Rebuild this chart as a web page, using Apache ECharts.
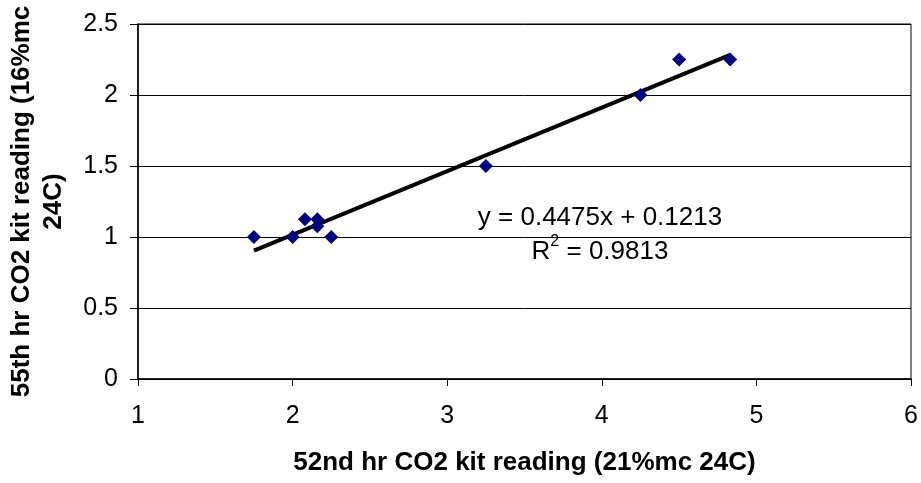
<!DOCTYPE html>
<html>
<head>
<meta charset="utf-8">
<script src="https://cdn.jsdelivr.net/npm/echarts@6/dist/echarts.min.js"></script>
<style>
  html, body { margin: 0; padding: 0; background: #fff; }
  #chart { width: 921px; height: 483px; }
</style>
</head>
<body>
<div id="chart"></div>
<script>
// readings
let xReading = [1.75, 2.0, 2.08, 2.16, 2.16, 2.25, 3.25, 4.25, 4.5, 4.83];
let yReading = [1.0, 1.0, 1.125, 1.125, 1.075, 1.0, 1.5, 2.0, 2.25, 2.25];
let xTicks = [1, 2, 3, 4, 5, 6];
let yTicks = [0, 0.5, 1, 1.5, 2, 2.5];

// linear trendline shown on the chart
let slope = 0.4475;
let intercept = 0.1213;
let rSquared = 0.9813;

window.onload = function () {
    let chart = echarts.init(document.getElementById('chart'));

    let points = xReading.map((x, i) => [x, yReading[i]]);
    let xMin = Math.min(...xReading);
    let xMax = Math.max(...xReading);
    let trend = [[xMin, slope * xMin + intercept], [xMax, slope * xMax + intercept]];

    let font = '"Liberation Sans", Arial, sans-serif';

    let option = {
        backgroundColor: '#fff',
        animation: false,
        grid: {
            left: 138, right: 10, top: 24, bottom: 104,
            outerBoundsMode: 'none',
            containLabel: false,
            show: true, borderColor: '#000', borderWidth: 1
        },
        xAxis: {
            type: 'value',
            min: xTicks[0], max: xTicks[xTicks.length - 1], interval: 1,
            name: '52nd hr CO2 kit reading (21%mc 24C)',
            nameLocation: 'middle',
            nameGap: 71,
            nameTextStyle: { fontFamily: font, fontSize: 26, fontWeight: 'bold', color: '#000' },
            axisLine: { lineStyle: { color: '#000', width: 1.5 } },
            axisTick: { show: true, length: 7, lineStyle: { color: '#000' } },
            axisLabel: { fontFamily: font, fontSize: 25, color: '#000', margin: 25 },
            splitLine: { show: false }
        },
        yAxis: {
            type: 'value',
            min: yTicks[0], max: yTicks[yTicks.length - 1], interval: 0.5,
            name: '55th hr CO2 kit reading (16%mc\n24C)',
            nameLocation: 'middle',
            nameGap: 68,
            nameTextStyle: { fontFamily: font, fontSize: 26, fontWeight: 'bold', color: '#000', lineHeight: 32 },
            axisLine: { lineStyle: { color: '#000', width: 1.5 } },
            axisTick: { show: true, length: 8, lineStyle: { color: '#000' } },
            axisLabel: { fontFamily: font, fontSize: 25, color: '#000', margin: 20 },
            splitLine: { show: true, lineStyle: { color: '#000', width: 1 } }
        },
        series: [
            {
                type: 'line',
                data: trend,
                symbol: 'none',
                lineStyle: { color: '#000', width: 4 },
                z: 2
            },
            {
                type: 'scatter',
                data: points,
                symbol: 'diamond',
                symbolSize: 14,
                itemStyle: { color: '#000080', opacity: 1 },
                z: 3
            }
        ],
        graphic: [
            {
                type: 'text',
                x: 600, y: 218,
                style: {
                    text: 'y = ' + slope + 'x + ' + intercept,
                    font: '26px ' + font,
                    fill: '#000',
                    align: 'center',
                    verticalAlign: 'middle'
                }
            },
            {
                type: 'text',
                x: 600, y: 252,
                style: {
                    text: '{a|R}{s|2}{a| = ' + rSquared + '}',
                    align: 'center',
                    verticalAlign: 'middle',
                    rich: {
                        a: { fontFamily: font, fontSize: 26, fill: '#000', color: '#000', lineHeight: 36 },
                        s: { fontFamily: font, fontSize: 16, fill: '#000', color: '#000', verticalAlign: 'top', lineHeight: 16 }
                    }
                }
            }
        ]
    };
    chart.setOption(option);
}
</script>
</body>
</html>
